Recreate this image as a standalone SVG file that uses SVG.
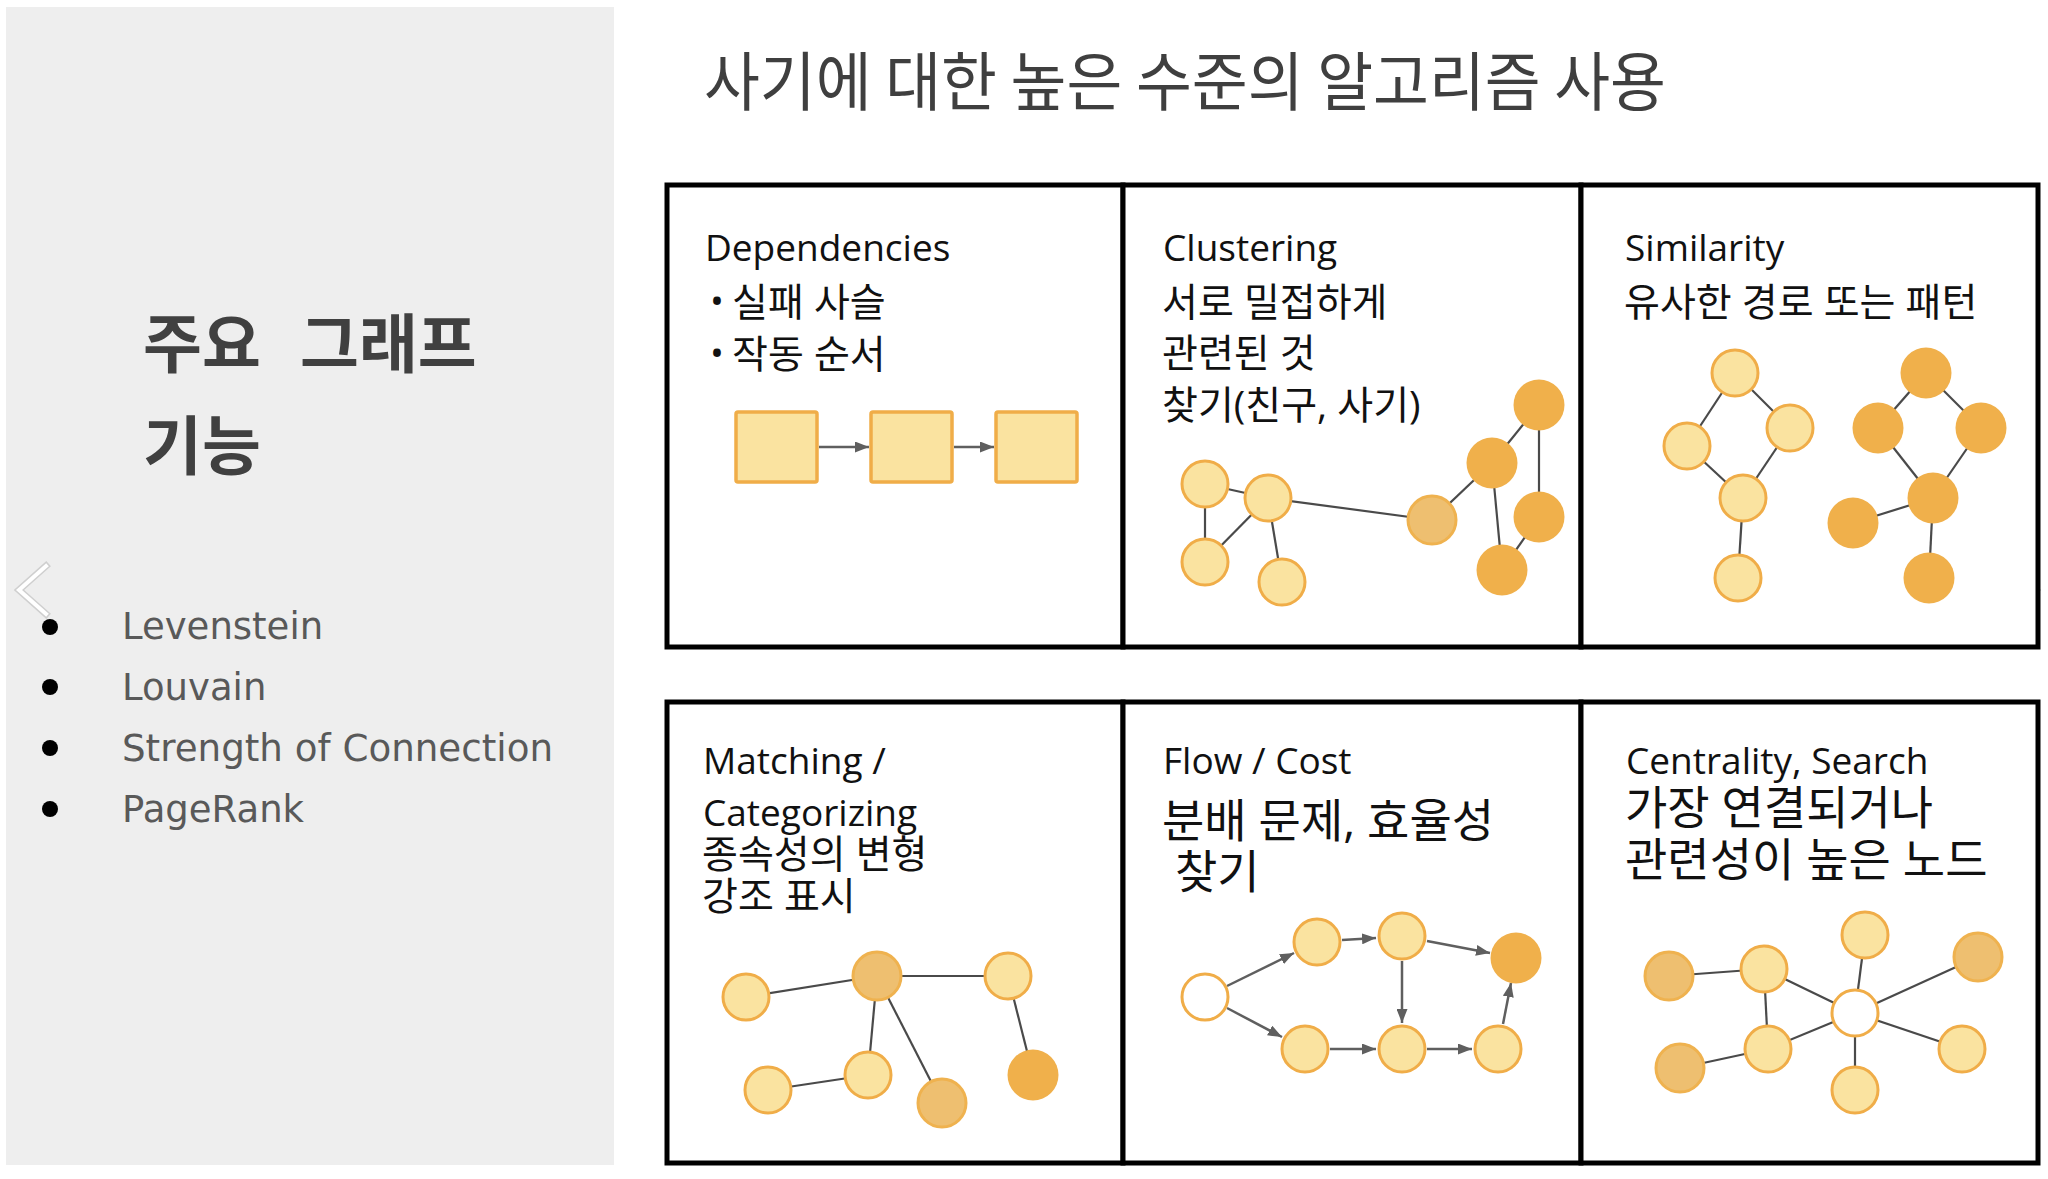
<svg xmlns="http://www.w3.org/2000/svg" width="2048" height="1179" viewBox="0 0 2048 1179">
<style>
.bg{fill:#ffffff}
.panel{fill:#eeeeee}
.cell{fill:#ffffff;stroke:#000000;stroke-width:5}
.hdr{font-family:"Noto Sans CJK KR",sans-serif;font-weight:700;font-size:64px;fill:#404040}
.title{font-family:"Noto Sans CJK KR",sans-serif;font-size:64px;fill:#3f3f3f}
.li{font-family:"DejaVu Sans",sans-serif;font-size:37px;fill:#595959}
.t{font-family:"Open Sans","Noto Sans CJK KR",sans-serif;font-size:37px;fill:#111111}
.k{font-family:"Open Sans","Noto Sans CJK KR",sans-serif;font-size:39px;fill:#111111}
.tk{font-family:"Open Sans","Noto Sans CJK KR",sans-serif;font-size:46px;fill:#111111}
.lt{fill:#fae3a0;stroke:#f0ad48;stroke-width:3}
.tan{fill:#eebf70;stroke:#efb24f;stroke-width:3}
.dk{fill:#f0b04b}
.wh{fill:#ffffff;stroke:#f0ad48;stroke-width:3}
.sq{fill:#fae3a0;stroke:#f0ad48;stroke-width:3.5}
.e{stroke:#4a4a4a;stroke-width:2.2;fill:none}
.a{stroke:#5f5f5f;stroke-width:2.5;fill:none;marker-end:url(#ah)}
.chev{fill:none;stroke:#ffffff;stroke-width:4;stroke-linecap:square}
.chevs{fill:none;stroke:#cfcfcf;stroke-width:7;stroke-linecap:square}
</style>
<defs>
<marker id="ah" markerUnits="userSpaceOnUse" markerWidth="14" markerHeight="11" refX="14" refY="5.5" orient="auto">
<path d="M0,0 L14,5.5 L0,11 z" fill="#5f5f5f"/>
</marker>
</defs>
<rect class="bg" x="0" y="0" width="2048" height="1179"/>

<g id="side-panel">
<rect class="panel" x="6" y="7" width="608" height="1158"/>
<text class="hdr" x="143" y="367">주요<tspan x="300">그래프</tspan></text>
<text class="hdr" x="143" y="469">기능</text>
<circle cx="50" cy="627" r="8" fill="#000"/>
<circle cx="50" cy="687" r="8" fill="#000"/>
<circle cx="50" cy="748" r="8" fill="#000"/>
<circle cx="50" cy="809" r="8" fill="#000"/>
<text class="li" x="122" y="639">Levenstein</text>
<text class="li" x="122" y="700">Louvain</text>
<text class="li" x="122" y="761" textLength="431" lengthAdjust="spacingAndGlyphs">Strength of Connection</text>
<text class="li" x="122" y="822">PageRank</text>
</g>

<g id="nav">
<polyline class="chevs" points="46,566 19,590 46,614"/>
<polyline class="chev" points="46,566 19,590 46,614"/>
<polyline class="chevs" points="2010,566 2036,590 2010,614"/>
<polyline class="chev" points="2010,566 2036,590 2010,614"/>
</g>

<text class="title" x="704" y="105" textLength="962" lengthAdjust="spacingAndGlyphs">사기에 대한 높은 수준의 알고리즘 사용</text>

<g id="cells">
<rect class="cell" x="667" y="185" width="456" height="462"/>
<rect class="cell" x="1123" y="185" width="458" height="462"/>
<rect class="cell" x="1581" y="185" width="457" height="462"/>
<rect class="cell" x="667" y="702" width="456" height="461"/>
<rect class="cell" x="1123" y="702" width="458" height="461"/>
<rect class="cell" x="1581" y="702" width="457" height="461"/>
</g>

<g id="cell-texts">
<text class="t" x="705" y="261">Dependencies</text>
<text class="t" x="710" y="314">•</text>
<text class="k" x="732" y="316">실패 사슬</text>
<text class="t" x="710" y="366">•</text>
<text class="k" x="732" y="368">작동 순서</text>

<text class="t" x="1163" y="261">Clustering</text>
<text class="k" x="1162" y="316">서로 밀접하게</text>
<text class="k" x="1162" y="367">관련된 것</text>
<text class="k" x="1162" y="419">찾기(친구, 사기)</text>

<text class="t" x="1625" y="261">Similarity</text>
<text class="k" x="1624" y="316">유사한 경로 또는 패턴</text>

<text class="t" x="703" y="774">Matching /</text>
<text class="t" x="703" y="826">Categorizing</text>
<text class="k" x="702" y="868">종속성의 변형</text>
<text class="k" x="702" y="910">강조 표시</text>

<text class="t" x="1163" y="774">Flow / Cost</text>
<text class="tk" x="1162" y="837">분배 문제, 효율성</text>
<text class="tk" x="1175" y="888">찾기</text>

<text class="t" x="1626" y="774">Centrality, Search</text>
<text class="tk" x="1625" y="824">가장 연결되거나</text>
<text class="tk" x="1625" y="876">관련성이 높은 노드</text>
</g>

<g id="connectors">
<line class="a" x1="819" y1="447" x2="869" y2="447"/>
<line class="a" x1="954" y1="447" x2="994" y2="447"/>

<line class="e" x1="1205" y1="484" x2="1268" y2="498"/>
<line class="e" x1="1205" y1="484" x2="1205" y2="562"/>
<line class="e" x1="1268" y1="498" x2="1205" y2="562"/>
<line class="e" x1="1268" y1="498" x2="1282" y2="582"/>
<line class="e" x1="1268" y1="498" x2="1432" y2="520"/>
<line class="e" x1="1432" y1="520" x2="1492" y2="463"/>
<line class="e" x1="1492" y1="463" x2="1539" y2="405"/>
<line class="e" x1="1539" y1="405" x2="1539" y2="517"/>
<line class="e" x1="1492" y1="463" x2="1502" y2="570"/>
<line class="e" x1="1539" y1="517" x2="1502" y2="570"/>

<line class="e" x1="1735" y1="373" x2="1687" y2="446"/>
<line class="e" x1="1735" y1="373" x2="1790" y2="428"/>
<line class="e" x1="1687" y1="446" x2="1743" y2="498"/>
<line class="e" x1="1790" y1="428" x2="1743" y2="498"/>
<line class="e" x1="1743" y1="498" x2="1738" y2="578"/>
<line class="e" x1="1926" y1="373" x2="1878" y2="428"/>
<line class="e" x1="1926" y1="373" x2="1981" y2="428"/>
<line class="e" x1="1878" y1="428" x2="1933" y2="498"/>
<line class="e" x1="1981" y1="428" x2="1933" y2="498"/>
<line class="e" x1="1933" y1="498" x2="1853" y2="523"/>
<line class="e" x1="1933" y1="498" x2="1929" y2="578"/>

<line class="e" x1="746" y1="997" x2="877" y2="976"/>
<line class="e" x1="877" y1="976" x2="1008" y2="976"/>
<line class="e" x1="877" y1="976" x2="868" y2="1075"/>
<line class="e" x1="877" y1="976" x2="942" y2="1103"/>
<line class="e" x1="1008" y1="976" x2="1033" y2="1075"/>
<line class="e" x1="768" y1="1090" x2="868" y2="1075"/>

<line class="a" x1="1227" y1="986" x2="1294" y2="953"/>
<line class="a" x1="1227" y1="1008" x2="1282" y2="1037"/>
<line class="a" x1="1342" y1="940" x2="1376" y2="938"/>
<line class="a" x1="1427" y1="941" x2="1490" y2="953"/>
<line class="a" x1="1402" y1="961" x2="1402" y2="1023"/>
<line class="a" x1="1330" y1="1049" x2="1376" y2="1049"/>
<line class="a" x1="1427" y1="1049" x2="1472" y2="1049"/>
<line class="a" x1="1503" y1="1024" x2="1511" y2="983"/>

<line class="e" x1="1669" y1="976" x2="1764" y2="969"/>
<line class="e" x1="1764" y1="969" x2="1855" y2="1013"/>
<line class="e" x1="1764" y1="969" x2="1768" y2="1049"/>
<line class="e" x1="1865" y1="935" x2="1855" y2="1013"/>
<line class="e" x1="1978" y1="957" x2="1855" y2="1013"/>
<line class="e" x1="1855" y1="1013" x2="1768" y2="1049"/>
<line class="e" x1="1855" y1="1013" x2="1962" y2="1049"/>
<line class="e" x1="1855" y1="1013" x2="1855" y2="1090"/>
<line class="e" x1="1768" y1="1049" x2="1680" y2="1068"/>
</g>

<g id="dep-nodes">
<g id="dep-a"><rect class="sq" x="736" y="412" width="81" height="70" rx="2"/></g>
<g id="dep-b"><rect class="sq" x="871" y="412" width="81" height="70" rx="2"/></g>
<g id="dep-c"><rect class="sq" x="996" y="412" width="81" height="70" rx="2"/></g>
</g>

<g id="cluster-nodes">
<g id="cl-a"><circle class="lt" cx="1205" cy="484" r="23"/></g>
<g id="cl-b"><circle class="lt" cx="1268" cy="498" r="23"/></g>
<g id="cl-c"><circle class="lt" cx="1205" cy="562" r="23"/></g>
<g id="cl-d"><circle class="lt" cx="1282" cy="582" r="23"/></g>
<g id="cl-e"><circle class="tan" cx="1432" cy="520" r="24"/></g>
<g id="cl-f"><circle class="dk" cx="1492" cy="463" r="25.5"/></g>
<g id="cl-g"><circle class="dk" cx="1539" cy="405" r="25.5"/></g>
<g id="cl-h"><circle class="dk" cx="1539" cy="517" r="25.5"/></g>
<g id="cl-i"><circle class="dk" cx="1502" cy="570" r="25.5"/></g>
</g>

<g id="sim-nodes">
<g id="sim-a"><circle class="lt" cx="1735" cy="373" r="23"/></g>
<g id="sim-b"><circle class="lt" cx="1687" cy="446" r="23"/></g>
<g id="sim-c"><circle class="lt" cx="1790" cy="428" r="23"/></g>
<g id="sim-d"><circle class="lt" cx="1743" cy="498" r="23"/></g>
<g id="sim-e"><circle class="lt" cx="1738" cy="578" r="23"/></g>
<g id="sim-f"><circle class="dk" cx="1926" cy="373" r="25.5"/></g>
<g id="sim-g"><circle class="dk" cx="1878" cy="428" r="25.5"/></g>
<g id="sim-h"><circle class="dk" cx="1981" cy="428" r="25.5"/></g>
<g id="sim-i"><circle class="dk" cx="1933" cy="498" r="25.5"/></g>
<g id="sim-j"><circle class="dk" cx="1853" cy="523" r="25.5"/></g>
<g id="sim-k"><circle class="dk" cx="1929" cy="578" r="25.5"/></g>
</g>

<g id="match-nodes">
<g id="m-1"><circle class="lt" cx="746" cy="997" r="23"/></g>
<g id="m-2"><circle class="tan" cx="877" cy="976" r="24"/></g>
<g id="m-3"><circle class="lt" cx="1008" cy="976" r="23"/></g>
<g id="m-4"><circle class="lt" cx="768" cy="1090" r="23"/></g>
<g id="m-5"><circle class="lt" cx="868" cy="1075" r="23"/></g>
<g id="m-6"><circle class="tan" cx="942" cy="1103" r="24"/></g>
<g id="m-7"><circle class="dk" cx="1033" cy="1075" r="25.5"/></g>
</g>

<g id="flow-nodes">
<g id="f-src"><circle class="wh" cx="1205" cy="997" r="23"/></g>
<g id="f-p1"><circle class="lt" cx="1317" cy="942" r="23"/></g>
<g id="f-p2"><circle class="lt" cx="1402" cy="936" r="23"/></g>
<g id="f-sink"><circle class="dk" cx="1516" cy="958" r="25.5"/></g>
<g id="f-q1"><circle class="lt" cx="1305" cy="1049" r="23"/></g>
<g id="f-q2"><circle class="lt" cx="1402" cy="1049" r="23"/></g>
<g id="f-q3"><circle class="lt" cx="1498" cy="1049" r="23"/></g>
</g>

<g id="central-nodes">
<g id="c-1"><circle class="tan" cx="1669" cy="976" r="24"/></g>
<g id="c-2"><circle class="lt" cx="1764" cy="969" r="23"/></g>
<g id="c-3"><circle class="lt" cx="1865" cy="935" r="23"/></g>
<g id="c-4"><circle class="tan" cx="1978" cy="957" r="24"/></g>
<g id="c-hub"><circle class="wh" cx="1855" cy="1013" r="23"/></g>
<g id="c-6"><circle class="lt" cx="1768" cy="1049" r="23"/></g>
<g id="c-7"><circle class="tan" cx="1680" cy="1068" r="24"/></g>
<g id="c-8"><circle class="lt" cx="1962" cy="1049" r="23"/></g>
<g id="c-9"><circle class="lt" cx="1855" cy="1090" r="23"/></g>
</g>
</svg>
